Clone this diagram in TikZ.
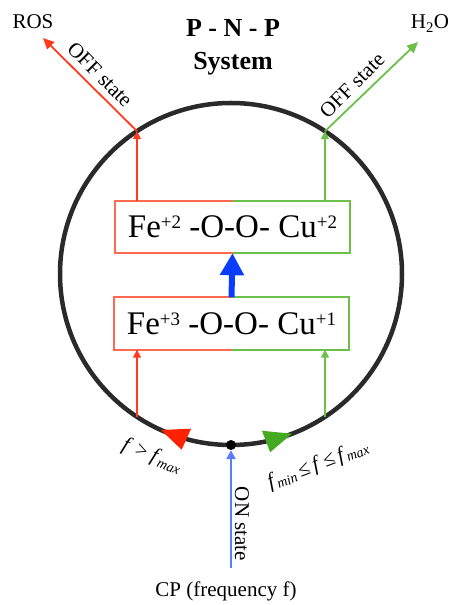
\documentclass[tikz,border=0pt]{standalone}
\usepackage{fontspec}
\setmainfont{Liberation Serif}
\usetikzlibrary{arrows.meta,calc}
\definecolor{redA}{HTML}{FF3B1F}
\definecolor{redB}{HTML}{FF6A50}
\definecolor{redT}{HTML}{FF2200}
\definecolor{grnA}{HTML}{6CC04A}
\definecolor{grnT}{HTML}{44AA22}
\definecolor{blueA}{HTML}{0A3CFF}
\definecolor{blueB}{HTML}{5B7BFF}
\definecolor{ringc}{HTML}{2A2A2A}
\newcommand{\chg}[1]{\raisebox{9pt}{\fontsize{19}{19}\selectfont #1}}
\newcommand{\fsub}[1]{\raisebox{-3pt}{\fontsize{14}{14}\selectfont\itshape #1}}
\tikzset{
  ring/.style={draw=ringc, line width=4.5pt},
  box/.style={minimum width=235pt, minimum height=52pt, inner sep=0pt, font=\fontsize{33}{36}\selectfont},
  bw/.style={line width=1.8pt},
  smallarrow/.style={line width=1.6pt, -{Triangle[length=8pt,width=8pt]}},
  diagarrow/.style={line width=1.8pt, -{Triangle[length=11pt,width=10pt]}},
  lab/.style={inner sep=0pt, font=\fontsize{21}{24}\selectfont},
  flab/.style={inner sep=0pt, font=\fontsize{21}{24}\selectfont},
  ttl/.style={inner sep=0pt, font=\fontsize{26}{30}\selectfont\bfseries}
}
\begin{document}
\begin{tikzpicture}[x=1pt,y=1pt]
\useasboundingbox (0,0) rectangle (450,605);
\coordinate (C) at (231,331);
% ring
\draw[ring] (C) circle[radius=171];
% arrow marks on the ring
\begin{scope}[shift={(231,331)}, rotate=245.8]
  \fill[redT] (171,0) -- (157.5,27) -- (180.5,27) -- cycle;
\end{scope}
\begin{scope}[shift={(231,331)}, rotate=290.9]
  \fill[grnT] (171,0) -- (157.5,-27) -- (180.5,-27) -- cycle;
\end{scope}
% title
\node[ttl, anchor=base] (t1) at (233,568) {P - N - P};
\node[ttl, anchor=base] (t2) at (233,535) {System};
% boxes
\node[box] (top) at (232.5,378) {Fe\chg{+2} -O-O- Cu\chg{+2}};
\node[box] (bot) at (231.5,281.5) {Fe\chg{+3} -O-O- Cu\chg{+1}};
\foreach \b in {top,bot}{
  \draw[redB, bw] (\b.north) -- (\b.north west) -- (\b.south west) -- (\b.south);
  \draw[grnA, bw] (\b.north) -- (\b.north east) -- (\b.south east) -- (\b.south);
}
\draw[blueA, line width=6pt, -{Triangle[length=22pt,width=23pt]}] (bot.north) -- (top.south);
% points on ring
\coordinate (rt) at (137,473.8);
\coordinate (rb) at (137,188.2);
\coordinate (gt) at (325,473.8);
\coordinate (gb) at (325,188.2);
\coordinate (rosend) at (43,567);
\coordinate (h2oend) at (418,563);
% red path
\draw[redA, smallarrow] (rb) -- (rb |- bot.south);
\draw[redA, smallarrow] (rt |- top.north) -- (rt);
\draw[redA, diagarrow] (rt) -- (rosend);
% green path
\draw[grnA, smallarrow] (gb) -- (gb |- bot.south);
\draw[grnA, smallarrow] (gt |- top.north) -- (gt);
\draw[grnA, diagarrow] (gt) -- (h2oend);
% end labels
\node[lab, anchor=base] (ros) at (33,576) {ROS};
\node[lab, anchor=base] (h2o) at (430,576) {H\textsubscript{2}O};
\node[lab, rotate=-45] (offr) at (100,530.5) {OFF state};
\node[lab, rotate=45] (offg) at (352,519.5) {OFF state};
% input
\node[circle, fill=black, inner sep=0pt, minimum size=10pt] (dot) at (231,160) {};
\coordinate (cpend) at (231,37);
\draw[blueB, line width=2.5pt, -{Triangle[length=9pt,width=9pt]}] (cpend) -- (dot.south);
\node[lab, rotate=-90] (on) at (242,81) {ON state};
\node[lab, anchor=base] (cp) at (226,9) {CP (frequency f)};
% condition labels
\node[flab, rotate=-22] (fgt) at (152,149) {\textit{f} > \textit{f}\fsub{max}};
\node[flab, rotate=21] (frange) at (318,140) {\textit{f}\fsub{min}\,≤\,\textit{f}\,≤\,\textit{f}\fsub{max}};
\end{tikzpicture}
\end{document}
